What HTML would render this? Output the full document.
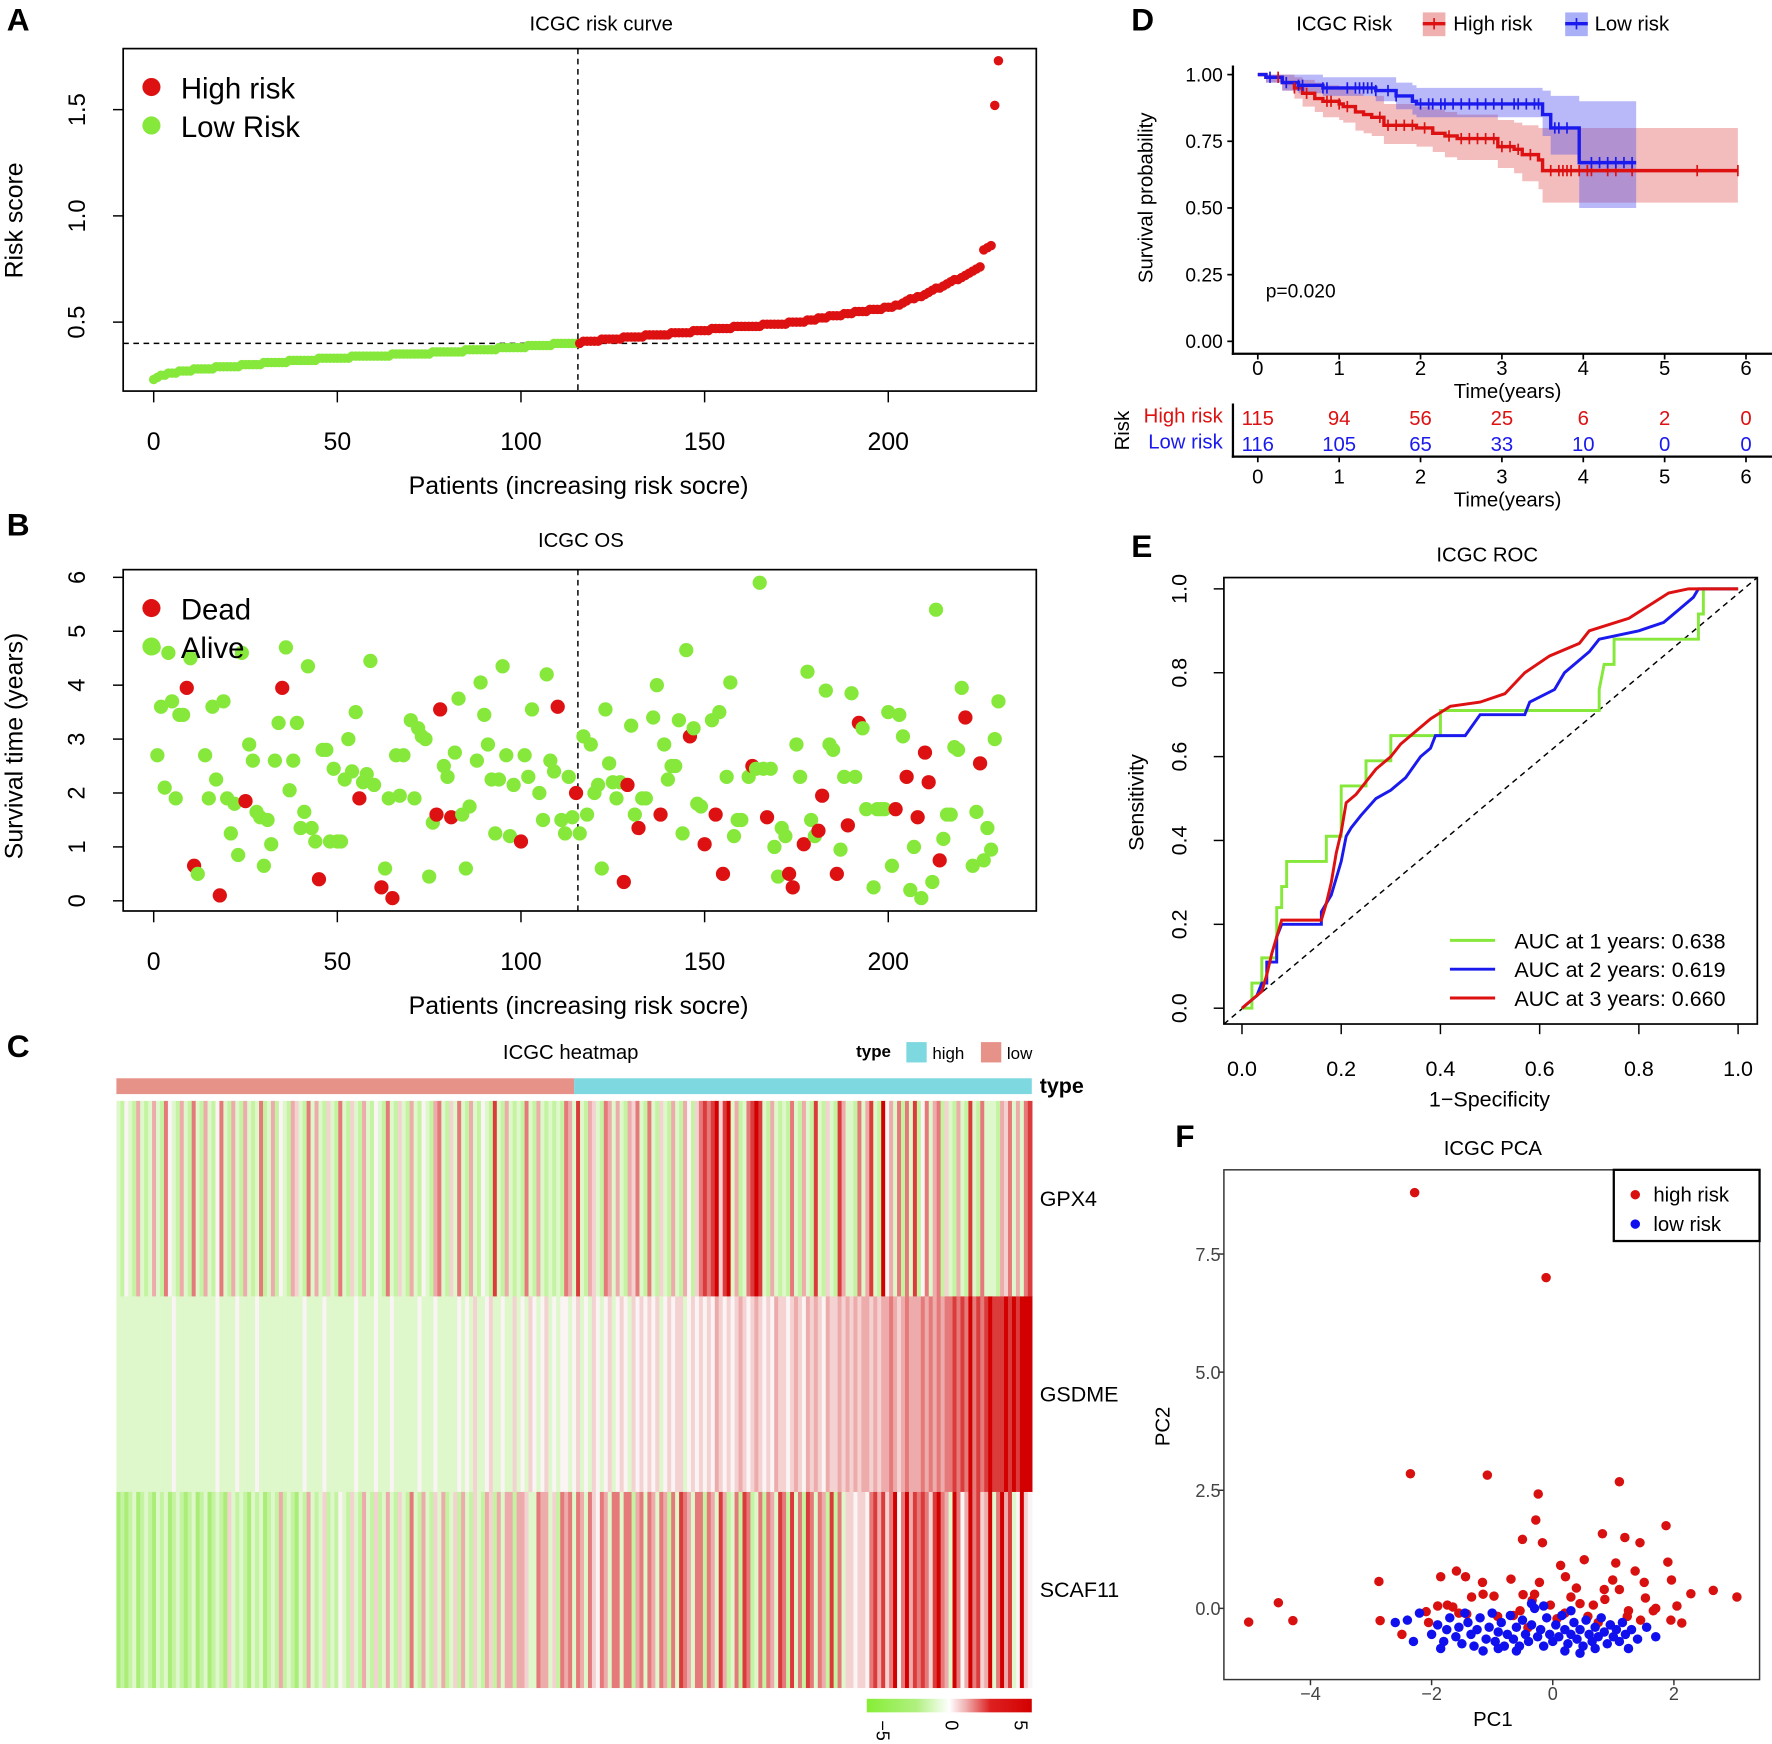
<!DOCTYPE html>
<html><head><meta charset="utf-8">
<style>
html,body{margin:0;padding:0;background:#fff;}
svg{display:block;font-family:"Liberation Sans",Arial,sans-serif;}
</style></head>
<body>
<svg id="fig" width="1772" height="1744" viewBox="0 0 1568 1543" preserveAspectRatio="none" xmlns="http://www.w3.org/2000/svg"></svg>
<script>
// ---------- Panel A data ----------
const riskScores = [
.23,.24,.25,.25,.26,.26,.26,.27,.27,.27,
.27,.28,.28,.28,.28,.28,.28,.29,.29,.29,
.29,.29,.29,.29,.30,.30,.30,.30,.30,.30,
.31,.31,.31,.31,.31,.31,.31,.32,.32,.32,
.32,.32,.32,.32,.32,.33,.33,.33,.33,.33,
.33,.33,.33,.33,.34,.34,.34,.34,.34,.34,
.34,.34,.34,.34,.34,.35,.35,.35,.35,.35,
.35,.35,.35,.35,.35,.35,.36,.36,.36,.36,
.36,.36,.36,.36,.36,.37,.37,.37,.37,.37,
.37,.37,.37,.37,.38,.38,.38,.38,.38,.38,
.38,.38,.39,.39,.39,.39,.39,.39,.39,.40,
.40,.40,.40,.40,.40,.40,
.40,.41,.41,.41,.41,.41,.42,.42,.42,.42,
.42,.42,.43,.43,.43,.43,.43,.43,.44,.44,
.44,.44,.44,.44,.44,.45,.45,.45,.45,.45,
.45,.46,.46,.46,.46,.46,.47,.47,.47,.47,
.47,.47,.48,.48,.48,.48,.48,.48,.48,.48,
.49,.49,.49,.49,.49,.49,.49,.50,.50,.50,
.50,.50,.51,.51,.51,.52,.52,.52,.53,.53,
.53,.53,.54,.54,.54,.55,.55,.55,.55,.56,
.56,.56,.56,.57,.57,.57,.58,.58,.59,.60,
.61,.61,.62,.62,.63,.64,.65,.66,.66,.67,
.68,.69,.70,.70,.71,.72,.73,.74,.75,.76,
.84,.85,.86,1.52,1.73];
const riskCutoff = 0.40;
const lowCount = 116;
const aXTicks = [0,50,100,150,200];
const aYTicks = [0.5,1.0,1.5];

// ---------- Panel B data ----------
const bIdx = [0,1,2,3,4,5,6,7,8,9,10,11,12,14,15,16,17,18,19,20,21,22,23,24,25,26,27,28,29,30,31,32,33,34,35,36,37,38,39,40,41,42,43,44,45,46,47,48,49,50,51,52,53,54,55,56,57,58,59,60,62,63,64,65,66,67,68,70,71,72,73,74,75,76,77,78,79,80,81,82,83,84,85,86,88,89,90,91,92,93,94,95,96,97,98,100,101,102,103,105,106,107,108,109,110,111,112,113,114,115,116,117,118,119,120,121,122,123,124,125,126,127,128,129,130,131,132,133,134,136,137,138,139,140,141,142,143,144,145,146,147,148,149,150,152,153,154,155,156,157,158,159,160,162,163,164,165,166,167,168,169,170,171,172,173,174,175,176,177,178,179,180,181,182,183,184,185,186,187,188,189,190,191,192,193,194,196,197,198,199,200,201,202,203,204,205,206,207,208,209,210,211,212,213,214,215,216,217,218,219,220,221,223,224,225,226,227,228,229,230];
const bTime = [4.7,2.7,3.6,2.1,4.6,3.7,1.9,3.45,3.45,3.95,4.5,0.65,0.5,2.7,1.9,3.6,2.25,0.1,3.7,1.9,1.25,1.8,0.85,4.6,1.85,2.9,2.6,1.65,1.55,0.65,1.5,1.05,2.6,3.3,3.95,4.7,2.05,2.6,3.3,1.35,1.65,4.35,1.35,1.1,0.4,2.8,2.8,1.1,2.45,1.1,1.1,2.25,3.0,2.4,3.5,1.9,2.2,2.35,4.45,2.15,0.25,0.6,1.9,0.05,2.7,1.95,2.7,3.35,1.9,3.2,3.05,3.0,0.45,1.45,1.6,3.55,2.5,2.3,1.55,2.75,3.75,1.6,0.6,1.75,2.6,4.05,3.45,2.9,2.25,1.25,2.25,4.35,2.7,1.2,2.15,1.1,2.7,2.3,3.55,2.0,1.5,4.2,2.6,2.4,3.6,1.5,1.25,2.3,1.55,2.0,1.25,3.05,1.6,2.9,2.0,2.15,0.6,3.55,2.55,2.2,1.9,2.2,0.35,2.15,3.25,1.6,1.35,1.9,1.9,3.4,4.0,1.6,2.9,2.25,2.5,2.5,3.35,1.25,4.65,3.05,3.2,1.8,1.75,1.05,3.35,1.6,3.5,0.5,2.3,4.05,1.2,1.5,1.5,2.3,2.5,2.45,5.9,2.45,1.55,2.45,1.0,0.45,1.35,1.2,0.5,0.25,2.9,2.3,1.05,4.25,1.5,1.2,1.3,1.95,3.9,2.9,2.8,0.5,0.95,2.3,1.4,3.85,2.3,3.3,3.2,1.7,0.25,1.7,1.7,1.7,3.5,0.65,1.7,3.45,3.05,2.3,0.2,1.0,1.55,0.05,2.75,2.2,0.35,5.4,0.75,1.15,1.6,1.6,2.85,2.8,3.95,3.4,0.65,1.65,2.55,0.75,1.35,0.95,3.0,3.7];
const bDead = [0,0,0,0,0,0,0,0,0,1,0,1,0,0,0,0,0,1,0,0,0,0,0,0,1,0,0,0,0,0,0,0,0,0,1,0,0,0,0,0,0,0,0,0,1,0,0,0,0,0,0,0,0,0,0,1,0,0,0,0,1,0,0,1,0,0,0,0,0,0,0,0,0,0,1,1,0,0,1,0,0,0,0,0,0,0,0,0,0,0,0,0,0,0,0,1,0,0,0,0,0,0,0,0,1,0,0,0,0,1,0,0,0,0,0,0,0,0,0,0,0,0,1,1,0,0,1,0,0,0,0,1,0,0,0,0,0,0,0,1,0,0,0,1,0,1,0,1,0,0,0,0,0,0,1,0,0,0,1,0,0,0,0,0,1,1,0,0,1,0,0,0,1,1,0,0,0,1,0,0,1,0,0,1,0,0,0,0,0,0,0,0,1,0,0,1,0,0,1,0,1,1,0,0,1,0,0,0,0,0,0,1,0,0,1,0,0,0,0];
const bYTicks = [0,1,2,3,4,5,6];

// ---------- Panel C data (level codes 0..8 per patient column) ----------
const genes = ["GPX4","GSDME","SCAF11"];
const gpx4Levels = "213215212521632152162"+"152136215215212612513"+"215421625214216214215"+"213216214215213215621"+"426215213217215212162"+"152121216527215421652"+"521546216214215215314"+"676784782512678721521"+"216215217214217522162"+"572183526162713625614"+"215217216222154625267";
const gsdmeLevels = "222222222222223222222"+"222232222322223222222"+"222223222232222222322"+"223222322222232223222"+"223232422342232242324"+"323423233234232432342"+"343243434342343442343"+"434354343454345434354"+"434543545435445454545"+"545455654565556565656"+"676768676787778787888";
const scaf11Levels = "010120121021201210120"+"120121042121021201215"+"121021521241213214215"+"214125214216215214251"+"241521421541525515542"+"265524165626526436526"+"626615626526516276526"+"616527512617612616527"+"617261762651716244344"+"367574683685767647865"+"286358674582685723843";
const levelValues = [-3,-2,-1,0,0.7,1.5,2.5,3.8,5];
const colorbarTicks = [-5,0,5];

// ---------- Panel D data ----------
const kmRedT  = [0,0.1,0.3,0.45,0.55,0.7,0.8,1.0,1.05,1.2,1.3,1.4,1.55,1.95,2.15,2.3,2.45,2.95,3.15,3.25,3.45,3.5];
const kmRedS  = [1,0.99,0.97,0.95,0.93,0.91,0.90,0.89,0.88,0.86,0.85,0.84,0.81,0.80,0.78,0.77,0.76,0.73,0.72,0.70,0.68,0.64];
const kmRedLo = [1,0.97,0.94,0.91,0.88,0.86,0.84,0.83,0.82,0.79,0.78,0.77,0.74,0.73,0.71,0.69,0.68,0.65,0.63,0.60,0.57,0.52];
const kmRedHi = [1,1,1,0.99,0.98,0.97,0.96,0.95,0.95,0.93,0.92,0.92,0.89,0.88,0.87,0.86,0.85,0.83,0.82,0.81,0.80,0.80];
const kmRedEnd = 5.9;
const kmBlueT  = [0,0.1,0.3,0.5,0.8,1.45,1.7,1.9,1.95,3.5,3.6,3.95];
const kmBlueS  = [1,0.99,0.97,0.96,0.95,0.94,0.92,0.90,0.89,0.85,0.80,0.67];
const kmBlueLo = [1,0.97,0.94,0.93,0.92,0.90,0.87,0.85,0.84,0.77,0.70,0.50];
const kmBlueHi = [1,1,1,1,0.99,0.99,0.97,0.96,0.95,0.94,0.92,0.90];
const kmBlueEnd = 4.65;
const redCensor = [0.25,0.45,0.6,0.85,0.9,1.0,1.1,1.5,1.6,1.7,1.8,1.9,2.05,2.35,2.5,2.6,2.7,2.8,2.9,3.0,3.1,3.2,3.35,3.6,3.7,3.75,3.8,3.85,3.95,4.05,4.1,4.3,4.4,4.6,5.4,5.9];
const blueCensor = [0.15,0.35,0.5,0.55,0.8,0.85,1.1,1.2,1.25,1.3,1.35,1.4,1.45,1.6,1.7,2.0,2.1,2.15,2.25,2.3,2.4,2.5,2.6,2.7,2.8,2.9,3.0,3.15,3.2,3.3,3.4,3.45,3.65,3.7,3.8,4.1,4.2,4.3,4.4,4.5,4.6];
const dYTicks = [0,0.25,0.5,0.75,1.0];
const dXTicks = [0,1,2,3,4,5,6];
const atRiskHigh = [115,94,56,25,6,2,0];
const atRiskLow = [116,105,65,33,10,0,0];

// ---------- Panel E data ----------
const rocGreen = [[0,0],[0.02,0],[0.02,0.06],[0.04,0.06],[0.04,0.12],[0.07,0.12],[0.07,0.24],[0.08,0.24],[0.08,0.29],[0.09,0.29],[0.09,0.35],[0.17,0.35],[0.17,0.41],[0.2,0.41],[0.2,0.53],[0.25,0.53],[0.25,0.59],[0.3,0.59],[0.3,0.65],[0.4,0.65],[0.4,0.71],[0.72,0.71],[0.72,0.76],[0.73,0.82],[0.75,0.82],[0.75,0.88],[0.92,0.88],[0.92,0.94],[0.93,0.94],[0.93,1.0],[1,1]];
const rocBlue = [[0,0],[0.01,0.01],[0.03,0.03],[0.04,0.06],[0.05,0.06],[0.05,0.11],[0.07,0.11],[0.07,0.17],[0.08,0.2],[0.16,0.2],[0.16,0.23],[0.18,0.27],[0.2,0.35],[0.21,0.41],[0.22,0.43],[0.24,0.46],[0.27,0.5],[0.3,0.52],[0.33,0.55],[0.36,0.6],[0.38,0.62],[0.39,0.65],[0.45,0.65],[0.48,0.7],[0.57,0.7],[0.58,0.73],[0.63,0.76],[0.65,0.8],[0.7,0.85],[0.72,0.88],[0.8,0.9],[0.85,0.92],[0.88,0.95],[0.91,0.98],[0.92,1.0],[1,1]];
const rocRed = [[0,0],[0.02,0.02],[0.04,0.04],[0.05,0.08],[0.06,0.13],[0.07,0.17],[0.08,0.21],[0.16,0.21],[0.17,0.25],[0.18,0.3],[0.19,0.37],[0.2,0.42],[0.21,0.49],[0.23,0.51],[0.25,0.54],[0.27,0.57],[0.3,0.6],[0.32,0.63],[0.38,0.69],[0.42,0.72],[0.48,0.73],[0.53,0.75],[0.57,0.8],[0.62,0.84],[0.68,0.87],[0.7,0.9],[0.78,0.93],[0.82,0.96],[0.86,0.99],[0.9,1.0],[1,1]];
const rocLabels = ["AUC at 1 years: 0.638","AUC at 2 years: 0.619","AUC at 3 years: 0.660"];
const eTicks = [0,0.2,0.4,0.6,0.8,1.0];

// ---------- Panel F data ----------
const pcaHigh = [[-2.28,8.8],[-0.11,7.0],[-2.35,2.85],[-1.08,2.82],[1.1,2.68],[-0.24,2.42],[-0.28,1.87],[-0.5,1.46],[-0.17,1.39],[1.87,1.75],[0.82,1.58],[1.19,1.5],[1.44,1.39],[1.9,0.98],[1.96,0.6],[1.36,0.79],[1.04,0.96],[-5.02,-0.29],[-4.53,0.12],[-4.29,-0.26],[-2.87,0.57],[-2.85,-0.26],[-1.59,0.79],[-1.44,0.67],[-1.16,0.55],[-1.85,0.67],[-1.74,0.07],[-0.69,0.62],[-0.49,0.29],[-0.34,0.17],[0.21,0.67],[0.39,0.43],[0.67,0.07],[0.86,0.19],[1.53,0.22],[1.66,-0.05],[2.05,0.05],[2.28,0.31],[2.65,0.38],[3.04,0.24],[2.13,-0.31],[-1.42,-0.12],[-0.91,-0.17],[-2.09,-0.07],[-1.34,0.24],[-0.54,-0.05],[-0.04,0.07],[0.58,-0.17],[1.23,-0.17],[0.07,-0.22],[-0.41,-0.41],[-0.97,0.26],[0.3,0.24],[1.51,0.55],[0.99,0.6],[0.52,1.03],[0.13,0.91],[-2.49,-0.55],[-2.05,-0.3],[-1.65,0.03],[-1.55,-0.1],[-0.22,0.55],[-0.3,0.3],[0.45,0.1],[0.85,0.4],[1.25,-0.05],[1.45,-0.25],[1.7,0.0],[1.95,-0.25],[0.95,-0.35],[0.2,-0.1],[-0.65,-0.15],[-1.15,0.3],[-1.9,0.05],[0.75,-0.3],[1.1,0.4]];
const pcaLow = [[-2.4,-0.25],[-2.2,-0.1],[-2.0,-0.55],[-1.9,-0.35],[-1.8,-0.7],[-1.75,-0.45],[-1.7,-0.2],[-1.6,-0.6],[-1.55,-0.4],[-1.5,-0.75],[-1.4,-0.3],[-1.35,-0.55],[-1.3,-0.8],[-1.25,-0.45],[-1.2,-0.2],[-1.1,-0.65],[-1.05,-0.4],[-1.0,-0.1],[-0.95,-0.7],[-0.9,-0.5],[-0.85,-0.3],[-0.8,-0.8],[-0.75,-0.55],[-0.7,-0.15],[-0.65,-0.65],[-0.6,-0.4],[-0.55,-0.8],[-0.5,-0.25],[-0.45,-0.55],[-0.4,-0.7],[-0.35,-0.35],[-0.3,0.0],[-0.25,-0.6],[-0.2,-0.45],[-0.15,-0.8],[-0.1,-0.2],[-0.05,-0.55],[0.0,-0.7],[0.05,-0.35],[0.1,-0.6],[0.15,-0.15],[0.2,-0.45],[0.25,-0.75],[0.3,-0.55],[0.35,-0.3],[0.4,-0.65],[0.45,-0.45],[0.5,-0.8],[0.55,-0.25],[0.6,-0.55],[0.65,-0.7],[0.7,-0.4],[0.75,-0.6],[0.8,-0.2],[0.85,-0.5],[0.9,-0.75],[0.95,-0.35],[1.0,-0.6],[1.05,-0.45],[1.1,-0.7],[1.15,-0.3],[1.2,-0.55],[1.3,-0.45],[1.4,-0.65],[1.55,-0.4],[1.7,-0.6],[-2.6,-0.3],[-1.85,-0.85],[-1.15,-0.9],[-0.6,-0.9],[0.2,-0.9],[0.7,-0.85],[-0.35,0.1],[-0.15,0.05],[0.3,-0.05],[-1.45,-0.1],[-2.3,-0.7],[-0.9,-0.85],[1.25,-0.85],[0.45,-0.95]];
const fXTicks = [-4,-2,0,2];
const fYTicks = [0,2.5,5,7.5];

// ---------- drawing ----------
const NS = "http://www.w3.org/2000/svg";
const svg = document.getElementById("fig");
function el(tag, attrs, parent){
  const e = document.createElementNS(NS, tag);
  for (const k in attrs) e.setAttribute(k, attrs[k]);
  (parent||svg).appendChild(e);
  return e;
}
function txt(s, x, y, size, opts, parent){
  const o = Object.assign({x:x, y:y, "font-size":size, fill:"#000"}, opts||{});
  const t = el("text", o, parent);
  t.textContent = s;
  return t;
}
function group(name){
  const g = el("g", {});
  
  
  return g;
}
const RED = "#dd1111", GREEN = "#86e83a", BLUE = "#1a1aee";

// ===== Panel A =====
(function(){
  const g = group("panel-a-risk-curve");
  const xA = p => 136 + p*3.25;
  const yA = v => 285 - (v-0.5)*188;
  let t = txt("A", 6, 27, 28, {"font-weight":"bold"}, g);
   
  t = txt("ICGC risk curve", 532, 27, 18, {"text-anchor":"middle"}, g);
   
  const box = el("rect", {x:109,y:43,width:808,height:303,fill:"none",stroke:"#000","stroke-width":1.5}, g);
   
  aYTicks.forEach(v=>{
    el("line",{x1:100,x2:109,y1:yA(v),y2:yA(v),stroke:"#000","stroke-width":1.3},g);
    const l = txt(v.toFixed(1), 75, yA(v), 21, {"text-anchor":"middle",transform:`rotate(-90 75 ${yA(v)})`}, g);
     
  });
  aXTicks.forEach(v=>{
    el("line",{x1:xA(v),x2:xA(v),y1:346,y2:356,stroke:"#000","stroke-width":1.3},g);
    const l = txt(String(v), xA(v), 398, 22, {"text-anchor":"middle"}, g);
     
  });
  el("line",{x1:109,x2:917,y1:yA(riskCutoff),y2:yA(riskCutoff),stroke:"#000","stroke-dasharray":"5,4","stroke-width":1.3},g);
  el("line",{x1:xA(lowCount-0.5),x2:xA(lowCount-0.5),y1:43,y2:346,stroke:"#000","stroke-dasharray":"5,4","stroke-width":1.3},g);
  riskScores.forEach((v,i)=>{
    const c = el("circle",{cx:xA(i),cy:yA(v),r:4.2,fill:i<lowCount?GREEN:RED},g);
     
  });
  t = txt("Risk score", 20, 195, 22, {"text-anchor":"middle",transform:"rotate(-90 20 195)"}, g);
   
  t = txt("Patients (increasing risk socre)", 512, 437, 22, {"text-anchor":"middle"}, g);
   
  el("circle",{cx:134,cy:77,r:8,fill:RED},g);
  t = txt("High risk", 160, 87, 26, {}, g);
   
  el("circle",{cx:134,cy:111,r:8,fill:GREEN},g);
  t = txt("Low Risk", 160, 121, 26, {}, g);
   
})();

// ===== Panel B =====
(function(){
  const g = group("panel-b-survival-scatter");
  const xB = p => 136 + p*3.25;
  const yB = v => 797 - v*47.7;
  let t = txt("B", 6, 474, 28, {"font-weight":"bold"}, g);
   
  t = txt("ICGC OS", 514, 484, 18, {"text-anchor":"middle"}, g);
   
  el("rect",{x:109,y:504,width:808,height:302,fill:"none",stroke:"#000","stroke-width":1.5},g);
  bYTicks.forEach(v=>{
    el("line",{x1:100,x2:109,y1:yB(v),y2:yB(v),stroke:"#000","stroke-width":1.3},g);
    const l = txt(String(v), 75, yB(v), 21, {"text-anchor":"middle",transform:`rotate(-90 75 ${yB(v)})`}, g);
     
  });
  aXTicks.forEach(v=>{
    el("line",{x1:xB(v),x2:xB(v),y1:806,y2:816,stroke:"#000","stroke-width":1.3},g);
    const l = txt(String(v), xB(v), 858, 22, {"text-anchor":"middle"}, g);
     
  });
  el("line",{x1:xB(lowCount-0.5),x2:xB(lowCount-0.5),y1:504,y2:806,stroke:"#000","stroke-dasharray":"5,4","stroke-width":1.3},g);
  bIdx.forEach((p,i)=>{
    const c = el("circle",{cx:xB(p),cy:yB(bTime[i]),r:6.3,fill:bDead[i]?RED:GREEN},g);
     
  });
  t = txt("Survival time (years)", 20, 660, 22, {"text-anchor":"middle",transform:"rotate(-90 20 660)"}, g);
   
  t = txt("Patients (increasing risk socre)", 512, 897, 22, {"text-anchor":"middle"}, g);
   
  el("circle",{cx:134,cy:538,r:8,fill:RED},g);
  t = txt("Dead", 160, 548, 26, {}, g);
   
  el("circle",{cx:134,cy:572,r:8,fill:GREEN},g);
  t = txt("Alive", 160, 582, 26, {}, g);
   
})();

// ===== Panel C =====
function heatColor(v){
  const lerp=(a,b,f)=>Math.round(a+(b-a)*f);
  if (v<0){ const f=Math.min(1,-v/3); return `rgb(${lerp(248,170,f)},${lerp(252,238,f)},${lerp(244,120,f)})`; }
  const f=Math.min(1,v/5); return `rgb(${lerp(250,210,f)},${lerp(244,0,f)},${lerp(244,0,f)})`;
}
(function(){
  const g = group("panel-c-heatmap");
  const N = 231, x0 = 103, x1 = 913, w = (x1-x0)/N;
  let t = txt("C", 6, 935, 28, {"font-weight":"bold"}, g);
   
  t = txt("ICGC heatmap", 505, 937, 18, {"text-anchor":"middle"}, g);
   
  t = txt("type", 773, 935, 15, {"text-anchor":"middle","font-weight":"bold"}, g);
  el("rect",{x:802,y:922,width:18,height:18,fill:"#7dd8e0"},g);
  t = txt("high", 825, 937, 15, {}, g);
   
  el("rect",{x:868,y:922,width:18,height:18,fill:"#e79289"},g);
  t = txt("low", 891, 937, 15, {}, g);
   
  const split = x0 + lowCount*w - w*0.5;
  let r = el("rect",{x:x0,y:954,width:split-x0,height:14,fill:"#e79289"},g);
   
  r = el("rect",{x:split,y:954,width:x1-split,height:14,fill:"#7dd8e0"},g);
   
  t = txt("type", 920, 967, 19, {"font-weight":"bold"}, g);
  const rows = [gpx4Levels, gsdmeLevels, scaf11Levels];
  const rowTop = [974, 1147, 1320], rowH = 173.5;
  rows.forEach((s,ri)=>{
    for (let i=0;i<N;i++){
      const d = i < s.length ? +s[i] : 3;
      const c = el("rect",{x:x0+i*w,y:rowTop[ri],width:w+0.6,height:rowH,fill:heatColor(levelValues[d])},g);
       
    }
    const l = txt(genes[ri], 920, rowTop[ri]+93, 19, {}, g);
     
  });
  const defs = el("defs",{},g);
  const lg = el("linearGradient",{id:"cb",x1:0,x2:1,y1:0,y2:0},defs);
  [["0","#86ee34"],["0.3","#b0f080"],["0.5","#ffffff"],["0.6","#f0b0b0"],["0.75","#dd2020"],["1","#d40000"]].forEach(s=>el("stop",{offset:s[0],"stop-color":s[1]},lg));
  r = el("rect",{x:767,y:1503,width:146,height:12,fill:"url(#cb)"},g);
   
  colorbarTicks.forEach(v=>{
    const x = 780 + (v+5)/10*(902-780);
    const l = txt(v<0?"\u22125":String(v), x, 1522, 16, {transform:`rotate(90 ${x} 1522)`,"dominant-baseline":"middle"}, g);
     
  });
})();

// ===== Panel D =====
(function(){
  const g = group("panel-d-km-curve");
  const xD = tt => 1113 + tt*72;
  const yD = v => 302 - v*236;
  let t = txt("D", 1001, 27, 28, {"font-weight":"bold"}, g);
   
  t = txt("ICGC Risk", 1147, 27, 18, {}, g);
   
  el("rect",{x:1259,y:11,width:20,height:21,fill:"#f0b0b0"},g);
  el("line",{x1:1259,x2:1279,y1:21,y2:21,stroke:RED,"stroke-width":3},g);
  el("line",{x1:1269,x2:1269,y1:16,y2:26,stroke:RED,"stroke-width":1.5},g);
  t = txt("High risk", 1286, 27, 18, {}, g);
   
  el("rect",{x:1385,y:11,width:20,height:21,fill:"#aab0f8"},g);
  el("line",{x1:1385,x2:1405,y1:21,y2:21,stroke:BLUE,"stroke-width":3},g);
  el("line",{x1:1395,x2:1395,y1:16,y2:26,stroke:BLUE,"stroke-width":1.5},g);
  t = txt("Low risk", 1411, 27, 18, {}, g);
   

  function ciPath(T,lo,hi,end){
    let up="", dn=[];
    for (let i=0;i<T.length;i++){
      const xa = xD(T[i]), xb = xD(i+1<T.length?T[i+1]:end);
      up += (i===0?"M":"L")+xa+","+yD(hi[i])+"L"+xb+","+yD(hi[i]);
      dn.unshift("L"+xb+","+yD(lo[i])+"L"+xa+","+yD(lo[i]));
    }
    return up+dn.join("")+"Z";
  }
  function stepPath(T,S,end){
    let p="";
    for (let i=0;i<T.length;i++){
      p += (i===0?"M"+xD(T[i])+","+yD(S[i]):"L"+xD(T[i])+","+yD(S[i-1])+"L"+xD(T[i])+","+yD(S[i]));
    }
    return p+"L"+xD(end)+","+yD(S[S.length-1]);
  }
  function survAt(T,S,tt){ let s=S[0]; for(let i=0;i<T.length;i++) if(T[i]<=tt) s=S[i]; return s; }
  let p = el("path",{d:ciPath(kmRedT,kmRedLo,kmRedHi,kmRedEnd),fill:"rgba(226,90,90,0.4)"},g);
   
  p = el("path",{d:ciPath(kmBlueT,kmBlueLo,kmBlueHi,kmBlueEnd),fill:"rgba(80,80,240,0.4)"},g);
   
  p = el("path",{d:stepPath(kmRedT,kmRedS,kmRedEnd),fill:"none",stroke:RED,"stroke-width":3},g);
   
  p = el("path",{d:stepPath(kmBlueT,kmBlueS,kmBlueEnd),fill:"none",stroke:BLUE,"stroke-width":3},g);
   
  redCensor.forEach(c=>{ const y=yD(survAt(kmRedT,kmRedS,c)); const m=el("line",{x1:xD(c),x2:xD(c),y1:y-5,y2:y+5,stroke:RED,"stroke-width":1.5},g);
      });
  blueCensor.forEach(c=>{ const y=yD(survAt(kmBlueT,kmBlueS,c)); const m=el("line",{x1:xD(c),x2:xD(c),y1:y-5,y2:y+5,stroke:BLUE,"stroke-width":1.5},g);
      });
  el("line",{x1:1091,x2:1091,y1:58,y2:314,stroke:"#000","stroke-width":2},g);
  el("line",{x1:1090,x2:1568,y1:313,y2:313,stroke:"#000","stroke-width":2},g);
  dYTicks.forEach(v=>{
    el("line",{x1:1086,x2:1091,y1:yD(v),y2:yD(v),stroke:"#000","stroke-width":1.5},g);
    const l = txt(v.toFixed(2), 1082, yD(v)+6, 17, {"text-anchor":"end"}, g);
     
  });
  dXTicks.forEach(v=>{
    el("line",{x1:xD(v),x2:xD(v),y1:313,y2:318,stroke:"#000","stroke-width":1.5},g);
    let l = txt(String(v), xD(v), 332, 18, {"text-anchor":"middle"}, g);
     
    el("line",{x1:xD(v),x2:xD(v),y1:404,y2:409,stroke:"#000","stroke-width":1.5},g);
    l = txt(String(v), xD(v), 428, 18, {"text-anchor":"middle"}, g);
     
    l = txt(String(atRiskHigh[v]), xD(v), 376, 18, {"text-anchor":"middle",fill:"#dd1111"}, g);
     
    l = txt(String(atRiskLow[v]), xD(v), 399, 18, {"text-anchor":"middle",fill:"#1a1aee"}, g);
     
  });
  t = txt("Time(years)", 1334, 352, 18, {"text-anchor":"middle"}, g);
   
  t = txt("Survival probability", 1020, 175, 18, {"text-anchor":"middle",transform:"rotate(-90 1020 175)"}, g);
   
  t = txt("p=0.020", 1120, 263, 17, {}, g);
   
  el("line",{x1:1091,x2:1091,y1:357,y2:405,stroke:"#000","stroke-width":2},g);
  el("line",{x1:1090,x2:1568,y1:404,y2:404,stroke:"#000","stroke-width":2},g);
  t = txt("High risk", 1082, 374, 18, {"text-anchor":"end",fill:"#dd1111"}, g);
   
  t = txt("Low risk", 1082, 397, 18, {"text-anchor":"end",fill:"#1a1aee"}, g);
   
  t = txt("Risk", 999, 381, 18, {"text-anchor":"middle",transform:"rotate(-90 999 381)"}, g);
   
  t = txt("Time(years)", 1334, 448, 18, {"text-anchor":"middle"}, g);
   
})();

// ===== Panel E =====
(function(){
  const g = group("panel-e-roc");
  const xE = v => 1099 + v*439;
  const yE = v => 892 - v*371;
  let t = txt("E", 1001, 493, 28, {"font-weight":"bold"}, g);
   
  t = txt("ICGC ROC", 1316, 497, 18, {"text-anchor":"middle"}, g);
   
  el("rect",{x:1083,y:511,width:472,height:395,fill:"none",stroke:"#000","stroke-width":1.5},g);
  eTicks.forEach(v=>{
    el("line",{x1:1074,x2:1083,y1:yE(v),y2:yE(v),stroke:"#000","stroke-width":1.3},g);
    let l = txt(v.toFixed(1), 1050, yE(v), 19, {"text-anchor":"middle",transform:`rotate(-90 1050 ${yE(v)})`}, g);
     
    el("line",{x1:xE(v),x2:xE(v),y1:906,y2:915,stroke:"#000","stroke-width":1.3},g);
    l = txt(v.toFixed(1), xE(v), 952, 19, {"text-anchor":"middle"}, g);
     
  });
  el("line",{x1:1083,y1:906,x2:1555,y2:511,stroke:"#000","stroke-dasharray":"5,4","stroke-width":1.3},g);
  const series = [[rocGreen,"#86e83a","roc-1-year"],[rocBlue,"#1a1aee","roc-2-year"],[rocRed,"#dd1111","roc-3-year"]];
  series.forEach(s=>{
    const d = s[0].map((pt,i)=>(i?"L":"M")+xE(pt[0])+","+yE(pt[1])).join("");
    const p = el("path",{d:d,fill:"none",stroke:s[1],"stroke-width":2.6},g);
    
    
  });
  rocLabels.forEach((lab,i)=>{
    const y = 832 + i*25.5;
    el("line",{x1:1283,x2:1323,y1:y,y2:y,stroke:series[i][1],"stroke-width":2.6},g);
    const l = txt(lab, 1340, y+7, 19, {}, g);
     
  });
  t = txt("Sensitivity", 1012, 710, 19, {"text-anchor":"middle",transform:"rotate(-90 1012 710)"}, g);
   
  t = txt("1\u2212Specificity", 1318, 979, 19, {"text-anchor":"middle"}, g);
   
})();

// ===== Panel F =====
(function(){
  const g = group("panel-f-pca");
  const xF = v => 1374 + v*53.6;
  const yF = v => 1423 - v*41.8;
  let t = txt("F", 1040, 1015, 28, {"font-weight":"bold"}, g);
   
  t = txt("ICGC PCA", 1321, 1022, 18, {"text-anchor":"middle"}, g);
   
  el("rect",{x:1083,y:1035,width:474,height:451,fill:"none",stroke:"#333","stroke-width":1.3},g);
  fYTicks.forEach(v=>{
    el("line",{x1:1078,x2:1083,y1:yF(v),y2:yF(v),stroke:"#333","stroke-width":1.3},g);
    const l = txt(v.toFixed(1), 1080, yF(v)+6, 16, {"text-anchor":"end",fill:"#444"}, g);
     
  });
  fXTicks.forEach(v=>{
    el("line",{x1:xF(v),x2:xF(v),y1:1486,y2:1491,stroke:"#333","stroke-width":1.3},g);
    const l = txt(v<0?"\u2212"+(-v):String(v), xF(v), 1504, 16, {"text-anchor":"middle",fill:"#444"}, g);
     
  });
  pcaHigh.forEach(pt=>{
    const c = el("circle",{cx:xF(pt[0]),cy:yF(pt[1]),r:4.2,fill:"#d81010"},g);
     
  });
  pcaLow.forEach(pt=>{
    const c = el("circle",{cx:xF(pt[0]),cy:yF(pt[1]),r:4.2,fill:"#1010ee"},g);
     
  });
  t = txt("PC1", 1321, 1527, 18, {"text-anchor":"middle"}, g);
   
  t = txt("PC2", 1035, 1262, 18, {"text-anchor":"middle",transform:"rotate(-90 1035 1262)"}, g);
   
  const lb = el("rect",{x:1428,y:1035,width:129,height:63,fill:"#fff",stroke:"#000","stroke-width":2},g);
   
  el("circle",{cx:1447,cy:1057,r:4.2,fill:"#d81010"},g);
  t = txt("high risk", 1463, 1063, 18, {}, g);
   
  el("circle",{cx:1447,cy:1083,r:4.2,fill:"#1010ee"},g);
  t = txt("low risk", 1463, 1089, 18, {}, g);
   
})();
</script>
</body></html>
